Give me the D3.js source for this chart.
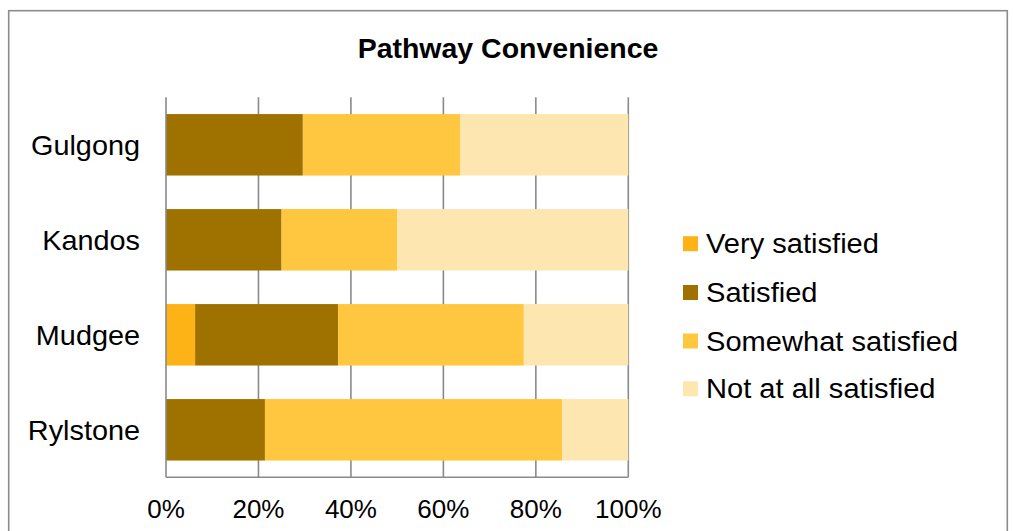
<!DOCTYPE html>
<html>
<head>
<meta charset="utf-8">
<script src="https://cdn.jsdelivr.net/npm/d3@7"></script>
<style>
  html, body { margin: 0; padding: 0; background: #fff; }
  svg { display: block; }
  text { font-family: "Liberation Sans", Arial, sans-serif; fill: #000; }
</style>
</head>
<body>
<svg id="chart" width="1013" height="531"></svg>
<script>
// Survey responses (percent of respondents) by town
const categories = ["Gulgong", "Kandos", "Mudgee", "Rylstone"];
const seriesNames = ["Very satisfied", "Satisfied", "Somewhat satisfied", "Not at all satisfied"];
const verySatisfied = [0, 0, 6.3, 0];
const satisfied = [29.6, 25.0, 30.9, 21.4];
const somewhatSatisfied = [34.0, 25.0, 40.2, 64.3];
const notAtAllSatisfied = [36.4, 50.0, 22.6, 14.3];
const xTicks = [0, 20, 40, 60, 80, 100];
const colors = ["#FDB216", "#9F7200", "#FFC63F", "#FEE6B1"];

const svg = d3.select("#chart");

// Outer chart frame
svg.append("rect")
  .attr("x", 8.7).attr("y", 10.7)
  .attr("width", 998.6).attr("height", 540)
  .attr("fill", "#fff")
  .attr("stroke", "#8c8c8c").attr("stroke-width", 1.6);

// Text is drawn slightly wide, as in the original chart export
const wide = (x, y, sx) => `translate(${x},${y}) scale(${sx},1)`;

// Title
svg.append("text")
  .attr("transform", wide(508, 58, 1.055))
  .attr("text-anchor", "middle")
  .style("font-weight", "bold")
  .style("font-size", "27px")
  .text("Pathway Convenience");

const plot = { left: 166, right: 628.3, top: 97.3, bottom: 477.3 };

const x = d3.scaleLinear().domain([0, 100]).range([plot.left, plot.right]);
const y = d3.scaleBand().domain(categories)
  .range([plot.top, plot.bottom])
  .paddingInner(0.353).paddingOuter(0.1765);

// Rows for stacking
const rows = categories.map((c, i) => ({
  category: c,
  "Very satisfied": verySatisfied[i],
  "Satisfied": satisfied[i],
  "Somewhat satisfied": somewhatSatisfied[i],
  "Not at all satisfied": notAtAllSatisfied[i]
}));
const stacked = d3.stack().keys(seriesNames)(rows);
const color = d3.scaleOrdinal().domain(seriesNames).range(colors);

// Vertical gridlines
svg.append("g")
  .selectAll("line")
  .data(xTicks.filter(t => t > 0))
  .join("line")
  .attr("x1", d => x(d)).attr("x2", d => x(d))
  .attr("y1", plot.top).attr("y2", plot.bottom)
  .attr("stroke", "#8a8a8a").attr("stroke-width", 1.6);

// Bars
svg.append("g")
  .selectAll("g")
  .data(stacked)
  .join("g")
  .attr("fill", d => color(d.key))
  .selectAll("rect")
  .data(d => d)
  .join("rect")
  .attr("x", d => x(d[0]))
  .attr("y", d => y(d.data.category))
  .attr("width", d => x(d[1]) - x(d[0]))
  .attr("height", y.bandwidth());

// Axis lines
svg.append("line")
  .attr("x1", plot.left).attr("x2", plot.left)
  .attr("y1", plot.top).attr("y2", plot.bottom)
  .attr("stroke", "#8a8a8a").attr("stroke-width", 1.6);
svg.append("line")
  .attr("x1", plot.left).attr("x2", plot.right)
  .attr("y1", plot.bottom).attr("y2", plot.bottom)
  .attr("stroke", "#8a8a8a").attr("stroke-width", 1.6);

// Percent tick labels
svg.append("g")
  .selectAll("text")
  .data(xTicks)
  .join("text")
  .attr("transform", d => wide(x(d), 518, 1.0))
  .attr("text-anchor", "middle")
  .style("font-size", "26px")
  .text(d => d + "%");

// Category labels
svg.append("g")
  .selectAll("text")
  .data(categories)
  .join("text")
  .attr("transform", d => wide(140, y(d) + y.bandwidth() / 2, 1.03))
  .attr("dy", "0.35em")
  .attr("text-anchor", "end")
  .style("font-size", "28px")
  .text(d => d);

// Legend
const legendRowY = [243.7, 292.5, 341, 388.7];
const legend = svg.append("g")
  .selectAll("g")
  .data(seriesNames)
  .join("g")
  .attr("transform", (d, i) => `translate(683, ${legendRowY[i]})`);
legend.append("rect")
  .attr("x", 0).attr("y", -7.5)
  .attr("width", 15).attr("height", 15)
  .attr("fill", d => color(d));
legend.append("text")
  .attr("transform", wide(23, 0, 1.058))
  .attr("dy", "0.35em")
  .style("font-size", "27.5px")
  .text(d => d);
</script>
</body>
</html>
